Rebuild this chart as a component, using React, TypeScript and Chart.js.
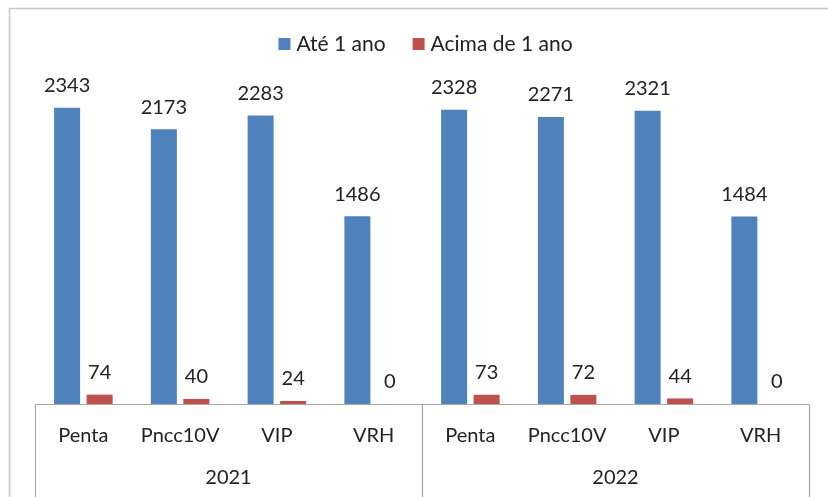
import React, { useEffect, useRef } from "react";
import { Chart, registerables } from "chart.js";

Chart.register(...registerables);

const categories = ["Penta", "Pncc10V", "VIP", "VRH", "Penta", "Pncc10V", "VIP", "VRH"];
const years = ["2021", "2022"];
const seriesNames = ["Até 1 ano", "Acima de 1 ano"];
const ate1ano = [2343, 2173, 2283, 1486, 2328, 2271, 2321, 1484];
const acima1ano = [74, 40, 24, 0, 73, 72, 44, 0];
const colors = ["#4F81BD", "#C0504D"];

const FONT = "Lato, 'Open Sans', sans-serif";

const decor = {
  id: "decor",
  beforeDraw(chart: any) {
    const ctx = chart.ctx;
    ctx.save();
    ctx.fillStyle = "#ffffff";
    ctx.fillRect(0, 0, chart.width, chart.height);
    ctx.strokeStyle = "#c6c6c6";
    ctx.lineWidth = 1.5;
    ctx.beginPath();
    ctx.moveTo(9.5, chart.height + 2);
    ctx.lineTo(9.5, 8.5);
    ctx.lineTo(chart.width + 2, 8.5);
    ctx.stroke();

    // legend
    ctx.font = `21px ${FONT}`;
    ctx.textBaseline = "middle";
    ctx.textAlign = "left";
    const box = 12;
    const gapBoxText = 6;
    const gapItems = 27;
    const widths = seriesNames.map((n) => box + gapBoxText + ctx.measureText(n).width);
    const total = widths.reduce((a, b) => a + b, 0) + gapItems * (seriesNames.length - 1);
    let x = 425.5 - total / 2;
    const y = 43;
    seriesNames.forEach((n, i) => {
      ctx.fillStyle = colors[i];
      ctx.fillRect(x, y - box / 2 + 1, box, box);
      ctx.fillStyle = "#222";
      ctx.fillText(n, x + box + gapBoxText, y + 1);
      x += widths[i] + gapItems;
    });
    ctx.restore();
  },
  afterDatasetsDraw(chart: any) {
    const ctx = chart.ctx;
    const area = chart.chartArea;
    const xs = chart.scales.x;
    ctx.save();
    // data labels
    ctx.font = `20px ${FONT}`;
    ctx.fillStyle = "#222";
    ctx.textAlign = "center";
    ctx.textBaseline = "middle";
    chart.data.datasets.forEach((ds: any, di: number) => {
      const meta = chart.getDatasetMeta(di);
      meta.data.forEach((el: any, i: number) => {
        ctx.fillText(String(ds.data[i]), el.x, el.y - 22);
      });
    });

    // axis
    const base = area.bottom + 0.5;
    ctx.strokeStyle = "#a6a6a6";
    ctx.lineWidth = 1.2;
    ctx.beginPath();
    ctx.moveTo(area.left, base);
    ctx.lineTo(area.right, base);
    const n = categories.length;
    const per = n / years.length;
    for (let g = 0; g <= years.length; g++) {
      const px = Math.round(xs.getPixelForValue(g * per - 0.5)) + 0.5;
      ctx.moveTo(px, base);
      ctx.lineTo(px, chart.height + 2);
    }
    ctx.stroke();

    ctx.fillStyle = "#222";
    categories.forEach((c, i) => {
      ctx.fillText(c, xs.getPixelForValue(i), base + 31);
    });
    years.forEach((yv, g) => {
      const a = xs.getPixelForValue(g * per - 0.5);
      const b = xs.getPixelForValue((g + 1) * per - 0.5);
      ctx.fillText(yv, (a + b) / 2, base + 73);
    });
    ctx.restore();
  },
};

export default function App() {
  const ref = useRef<HTMLCanvasElement>(null);
  useEffect(() => {
    if (!ref.current) return;
    const chart = new Chart(ref.current, {
      type: "bar",
      data: {
        labels: categories,
        datasets: [
          { label: seriesNames[0], data: ate1ano, backgroundColor: colors[0], categoryPercentage: 0.672, barPercentage: 0.8 },
          { label: seriesNames[1], data: acima1ano, backgroundColor: colors[1], categoryPercentage: 0.672, barPercentage: 0.8 },
        ],
      },
      options: {
        responsive: false,
        animation: false,
        maintainAspectRatio: false,
        layout: { padding: { left: 35, right: 19, top: 88, bottom: 93 } },
        plugins: { legend: { display: false }, tooltip: { enabled: false } },
        scales: {
          x: { display: false, offset: true, grid: { display: false } },
          y: { display: false, min: 0, max: 2500 },
        },
      },
      plugins: [decor],
    });
    return () => chart.destroy();
  }, []);
  return (
    <div style={{ position: "absolute", left: 0, top: 0, width: 828, height: 497 }}>
      <canvas ref={ref} width={828} height={497} style={{ display: "block" }} />
    </div>
  );
}
